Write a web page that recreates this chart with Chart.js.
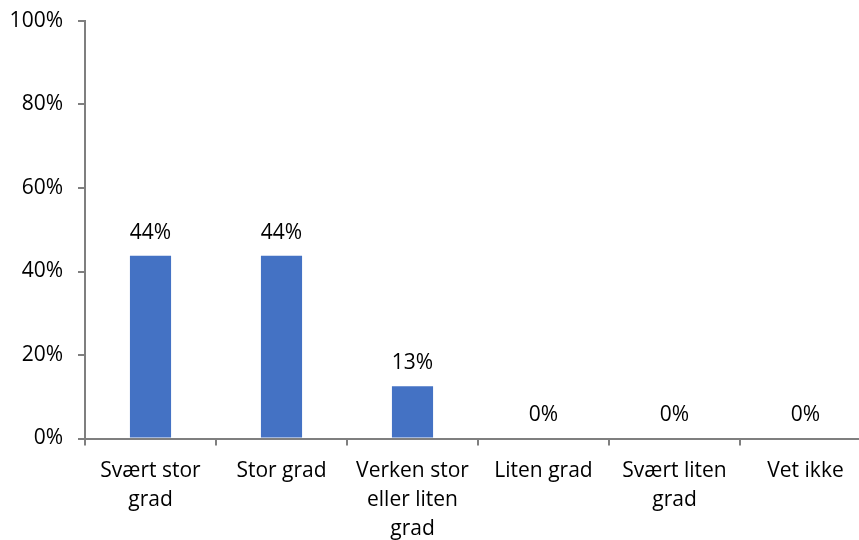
<!DOCTYPE html>
<html>
<head>
<meta charset="utf-8">
<script src="https://cdn.jsdelivr.net/npm/chart.js@4.4.1/dist/chart.umd.min.js"></script>
<style>
  html, body { margin: 0; padding: 0; background: #fff; overflow: hidden; }
  #wrap { width: 859px; height: 540px; overflow: hidden; position: relative; }
  #box { width: 871px; height: 540px; position: absolute; left: 0; top: 0; }
</style>
</head>
<body>
<div id="wrap"><div id="box"><canvas id="chart"></canvas></div></div>
<script>
// kategorier og verdier (andel i prosent)
const categories = [
  ['Svært stor', 'grad'],
  'Stor grad',
  ['Verken stor', 'eller liten', 'grad'],
  'Liten grad',
  ['Svært liten', 'grad'],
  'Vet ikke'
];
const values = [43.75, 43.75, 12.5, 0, 0, 0];
const yTicks = [0, 20, 40, 60, 80, 100];

const axisGrey = '#7f7f7f';
const fontFam = "'Open Sans', sans-serif";
const fontSize = 21;

// skriver prosentverdiene over stolpene
const valueLabels = {
  id: 'valueLabels',
  afterDatasetsDraw(chart) {
    const ctx = chart.ctx;
    const meta = chart.getDatasetMeta(0);
    ctx.save();
    ctx.font = fontSize + 'px ' + fontFam;
    ctx.fillStyle = '#000';
    ctx.textAlign = 'center';
    ctx.textBaseline = 'middle';
    meta.data.forEach((bar, i) => {
      ctx.fillText(Math.round(values[i]) + '%', bar.x, bar.y - 23);
    });
    ctx.restore();
  }
};

const ctx = document.getElementById('chart').getContext('2d');
new Chart(ctx, {
  type: 'bar',
  data: {
    labels: categories,
    datasets: [{
      data: values,
      backgroundColor: '#4472c4',
      borderWidth: 0,
      categoryPercentage: 1,
      barPercentage: 0.314
    }]
  },
  options: {
    responsive: true,
    maintainAspectRatio: false,
    animation: false,
    layout: { padding: { top: 21, right: 0, left: 0, bottom: 0 } },
    plugins: {
      legend: { display: false },
      tooltip: { enabled: false }
    },
    scales: {
      x: {
        grid: { display: true, drawOnChartArea: false, drawTicks: true, tickLength: 7, color: axisGrey, lineWidth: 2, offset: true },
        border: { color: axisGrey, width: 2 },
        ticks: {
          color: '#000', padding: 11, maxRotation: 0, autoSkip: false,
          font: { family: fontFam, size: fontSize, lineHeight: 1.38 }
        },
        afterFit(scale) { scale.height = 101.5; scale.paddingLeft = 0; scale.paddingRight = 0; }
      },
      y: {
        min: 0, max: 100,
        afterBuildTicks(scale) { scale.ticks = yTicks.map(v => ({ value: v })); },
        grid: { display: true, drawOnChartArea: false, drawTicks: true, tickLength: 7, color: axisGrey, lineWidth: 2 },
        border: { color: axisGrey, width: 2 },
        ticks: {
          color: '#000', padding: 15,
          font: { family: fontFam, size: fontSize },
          callback: v => v + '%'
        },
        afterFit(scale) { scale.width = 85; scale.paddingTop = 0; scale.paddingBottom = 0; }
      }
    }
  },
  plugins: [valueLabels]
});
</script>
</body>
</html>
